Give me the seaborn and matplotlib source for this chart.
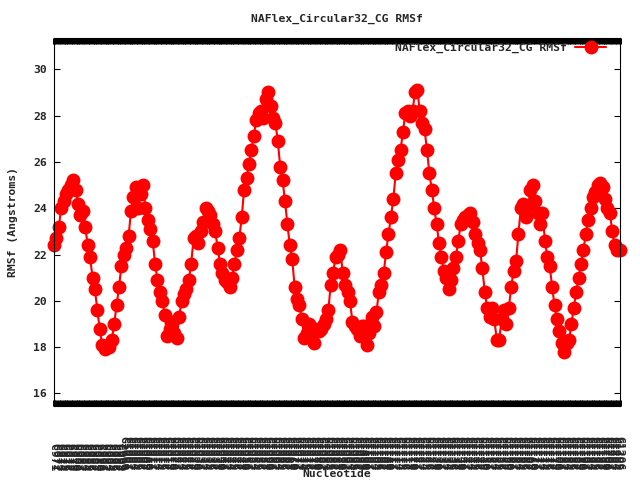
import matplotlib
matplotlib.use('Agg')
import matplotlib.pyplot as plt
import seaborn as sns
import pandas as pd

title = 'NAFlex_Circular32_CG RMSf'

# RMSf per nucleotide (Angstroms)
rmsf = [22.4, 22.7, 23.2, 24.0, 24.3, 24.6, 24.8, 25.0, 25.2, 24.8,
        24.2, 23.7, 23.9, 23.2, 22.4, 21.9, 21.0, 20.5, 19.6, 18.8,
        18.1, 17.9, 18.0, 18.0, 18.3, 19.0, 19.8, 20.6, 21.5, 22.0,
        22.3, 22.8, 23.9, 24.5, 24.9, 24.0, 24.6, 25.0, 24.0, 23.5,
        23.1, 22.6, 21.6, 20.9, 20.4, 20.0, 19.4, 18.5, 18.8, 19.1,
        18.6, 18.4, 19.3, 20.0, 20.3, 20.5, 20.9, 21.6, 22.7, 22.8,
        22.5, 23.0, 23.4, 24.0, 23.9, 23.7, 23.3, 23.0, 22.3, 21.6,
        21.2, 20.9, 20.8, 20.6, 21.0, 21.6, 22.2, 22.7, 23.6, 24.8,
        25.3, 25.9, 26.5, 27.1, 27.8, 28.1, 28.2, 27.9, 28.7, 29.0,
        28.4, 27.9, 27.7, 26.9, 25.8, 25.2, 24.3, 23.3, 22.4, 21.8,
        20.6, 20.1, 19.8, 19.2, 18.4, 18.6, 19.0, 18.5, 18.2, 18.8,
        18.7, 18.8, 19.0, 19.2, 19.6, 20.7, 21.2, 21.9, 22.0, 22.2,
        21.2, 20.7, 20.4, 20.0, 19.1, 18.9, 18.8, 18.5, 18.9, 18.9,
        18.1, 18.6, 19.3, 18.9, 19.5, 20.4, 20.7, 21.2, 22.1, 22.9,
        23.6, 24.4, 25.5, 26.1, 26.5, 27.3, 28.1, 28.2, 28.0, 28.2,
        29.0, 29.1, 28.2, 27.7, 27.4, 26.5, 25.5, 24.8, 24.0, 23.3,
        22.5, 21.9, 21.3, 21.0, 20.5, 20.9, 21.4, 21.9, 22.6, 23.3,
        23.5, 23.6, 23.7, 23.8, 23.4, 22.9, 22.5, 22.2, 21.4, 20.4,
        19.7, 19.3, 19.7, 19.2, 18.3, 18.3, 19.2, 19.6, 19.0, 19.7,
        20.6, 21.3, 21.7, 22.9, 24.0, 24.2, 23.6, 24.1, 24.8, 25.0,
        24.3, 23.8, 23.3, 23.8, 22.6, 21.9, 21.5, 20.6, 19.8, 19.2,
        18.7, 18.2, 17.8, 18.2, 18.3, 19.0, 19.7, 20.4, 21.0, 21.6,
        22.2, 22.9, 23.5, 24.0, 24.5, 24.7, 25.0, 25.1, 24.9, 24.4,
        24.0, 23.8, 23.0, 22.4, 22.2, 22.2]

n = len(rmsf)
first_num = 971
nucleotide = list(range(n))
nuc_labels = [(f"{'CG'[i % 2]}{first_num + i}").rjust(5) for i in range(n)]
yticks = [16, 18, 20, 22, 24, 26, 28, 30]

df = pd.DataFrame({'Nucleotide': nucleotide, 'RMSf': rmsf})

sns.set_style('white')
plt.rcParams['font.family'] = ['DejaVu Sans Mono']
plt.rcParams['font.weight'] = 'bold'
fs = 8.2

fig = plt.figure(figsize=(6.4, 4.8), dpi=100)
ax = fig.add_axes([54 / 640, 1 - 406 / 480, 565.5 / 640, 368 / 480])

sns.lineplot(data=df, x='Nucleotide', y='RMSf', ax=ax, color='#ff0000',
             linewidth=1.5, marker='o', markersize=10, markeredgewidth=0,
             label=title, clip_on=False)

ax.set_xlim(0, n - 1)
ax.set_ylim(15.46, 31.35)

ax.set_xticks(nucleotide)
ax.set_xticklabels(nuc_labels, rotation=270, fontsize=fs, fontweight='bold')
ax.set_yticks(yticks)
ax.set_yticklabels([str(v) for v in yticks], fontsize=fs, fontweight='bold')

ax.tick_params(axis='x', direction='in', length=4.5, width=2.2, top=True,
               bottom=True, pad=21.5, color='black')
ax.tick_params(axis='y', direction='in', length=4.5, width=0.8, left=True,
               right=True, pad=5, color='black')

for s in ax.spines.values():
    s.set_visible(True)
    s.set_color('black')
    s.set_linewidth(0.8)

ax.set_title(title, fontsize=fs, fontweight='bold', pad=12)
ax.set_xlabel('Nucleotide', fontsize=fs, fontweight='bold')
ax.set_ylabel('RMSf (Angstroms)', fontsize=fs, fontweight='bold')
ax.xaxis.set_label_coords(0.5, -0.171)
ax.yaxis.set_label_coords(-0.0645, 0.5)

ax.legend(loc='upper right', bbox_to_anchor=(0.977, 0.986), markerfirst=False,
          frameon=False, handlelength=2.8, handletextpad=0.7, borderpad=0,
          borderaxespad=0, prop={'size': fs, 'weight': 'bold'})

fig.savefig('out.png', dpi=100)
